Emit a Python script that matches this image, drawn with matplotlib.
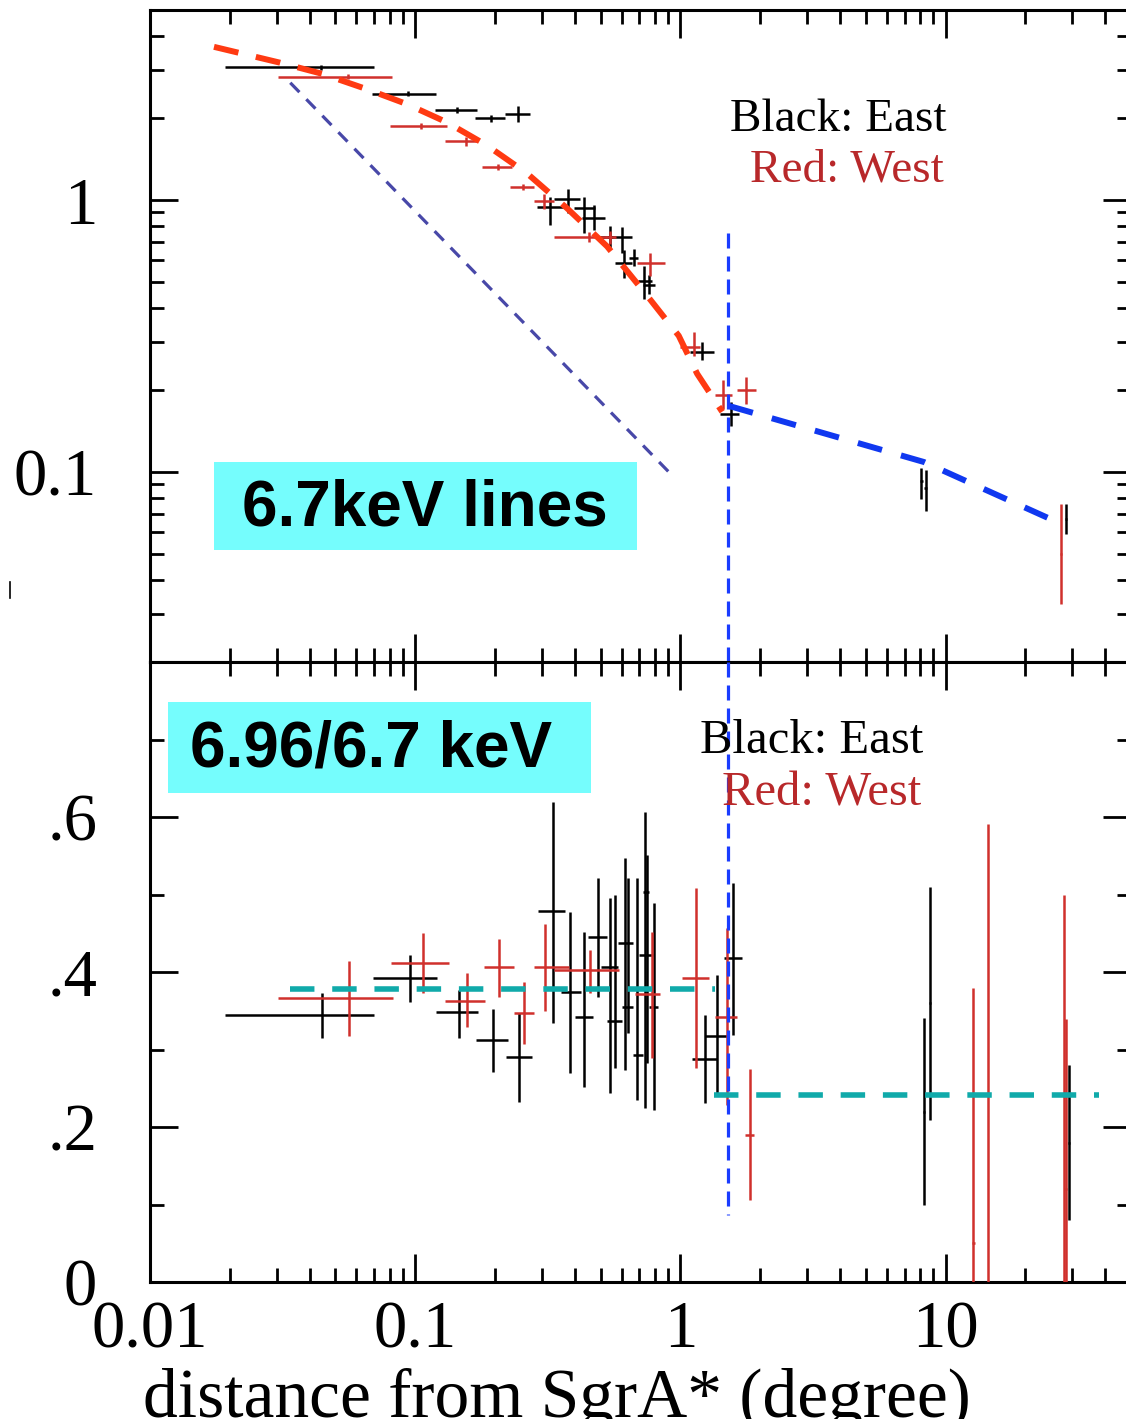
import matplotlib
matplotlib.use('agg')
import matplotlib.pyplot as plt
from matplotlib.ticker import FixedLocator, FixedFormatter, LogLocator, NullFormatter
from matplotlib.patches import Rectangle
from matplotlib.lines import Line2D
import numpy as np

# ---------------- data: 6.7 keV line intensity (top panel) ----------------
# East (black)
top_e_x = [0.0442, 0.0939, 0.1436, 0.193, 0.2432, 0.323, 0.377, 0.432, 0.471, 0.603,
           0.544, 0.611, 0.666, 0.727, 0.759, 1.208, 1.545, 8.10, 8.41, 28.4]
top_e_xlo = [0.0192, 0.0687, 0.119, 0.1684, 0.2186, 0.288, 0.333, 0.396, 0.426, 0.499,
             0.535, 0.568, 0.64, 0.69, 0.72, 1.091, 1.416, 8.0, 8.3, 28.2]
top_e_xhi = [0.0697, 0.120, 0.171, 0.2186, 0.270, 0.363, 0.419, 0.478, 0.521, 0.657,
             0.555, 0.657, 0.69, 0.78, 0.80, 1.336, 1.66, 8.2, 8.5, 28.6]
top_e_y = [3.08, 2.46, 2.14, 2.00, 2.08, 0.94, 1.006, 0.933, 0.857, 0.731,
           0.731, 0.587, 0.612, 0.503, 0.489, 0.277, 0.163, 0.0925, 0.0874, 0.067]
top_e_ylo = [3.02, 2.41, 2.09, 1.94, 1.93, 0.81, 0.894, 0.756, 0.777, 0.639,
             0.66, 0.518, 0.57, 0.432, 0.45, 0.257, 0.147, 0.0792, 0.0719, 0.059]
top_e_yhi = [3.14, 2.51, 2.19, 2.06, 2.22, 1.03, 1.10, 1.03, 0.959, 0.799,
             0.80, 0.657, 0.66, 0.571, 0.53, 0.300, 0.181, 0.1034, 0.102, 0.076]

# West (red)
top_w_x = [0.0556, 0.1053, 0.1557, 0.2051, 0.254, 0.305, 0.451, 0.544, 0.771, 1.122, 1.449, 1.77, 27.2]
top_w_xlo = [0.0305, 0.0805, 0.130, 0.1785, 0.2283, 0.2796, 0.333, 0.52, 0.687, 1.0, 1.356, 1.64, 27.0]
top_w_xhi = [0.0817, 0.1317, 0.171, 0.2317, 0.2796, 0.333, 0.529, 0.57, 0.878, 1.19, 1.567, 1.92, 27.4]
top_w_y = [2.84, 1.87, 1.646, 1.323, 1.118, 0.99, 0.731, 0.731, 0.587, 0.289, 0.1915, 0.1997, 0.0499]
top_w_ylo = [2.78, 1.83, 1.58, 1.29, 1.09, 0.93, 0.70, 0.69, 0.525, 0.268, 0.171, 0.178, 0.0328]
top_w_yhi = [2.90, 1.92, 1.71, 1.36, 1.15, 1.05, 0.76, 0.77, 0.639, 0.326, 0.217, 0.2236, 0.076]

# model curves drawn on the top panel
inner_x = [0.01743, 0.03094, 0.04446, 0.06571, 0.0930, 0.1317, 0.1865, 0.2639,
           0.3736, 0.529, 0.759, 0.9854, 1.156, 1.437]
inner_y = [3.66, 3.20, 2.915, 2.557, 2.254, 1.931, 1.588, 1.254,
           0.933, 0.6755, 0.4377, 0.317, 0.2298, 0.1665]
outer_x = [1.521, 8.28, 24.2]
outer_y = [0.175, 0.1088, 0.0679]
slope_x = [0.0338, 0.904]
slope_y = [2.70, 0.100]

# ---------------- data: 6.96/6.7 keV ratio (bottom panel) ----------------
bot_e_x = [0.0444, 0.0952, 0.1457, 0.1966, 0.2469, 0.331, 0.3846, 0.434, 0.489, 0.541,
           0.568, 0.620, 0.632, 0.686, 0.738, 0.749, 0.793, 1.243, 1.375, 1.581, 8.28, 8.73, 29.2]
bot_e_xlo = [0.0192, 0.0692, 0.1197, 0.170, 0.2209, 0.2904, 0.355, 0.40, 0.45, 0.50,
             0.53, 0.58, 0.60, 0.66, 0.72, 0.70, 0.76, 1.107, 1.243, 1.457, 8.2, 8.65, 29.0]
bot_e_xhi = [0.0702, 0.1208, 0.1718, 0.223, 0.2756, 0.368, 0.42, 0.47, 0.53, 0.58,
             0.60, 0.66, 0.66, 0.72, 0.76, 0.79, 0.82, 1.375, 1.50, 1.709, 8.36, 8.8, 29.4]
bot_e_y = [0.344, 0.3927, 0.3484, 0.3123, 0.290, 0.4787, 0.3738, 0.3415, 0.4448, 0.406,
           0.337, 0.437, 0.3553, 0.2929, 0.5028, 0.4219, 0.3544, 0.2882, 0.3178, 0.4177,
           0.2198, 0.3596, 0.18]
bot_e_ylo = [0.3152, 0.3617, 0.3144, 0.2714, 0.2327, 0.3346, 0.2693, 0.2512, 0.368, 0.2435,
             0.2757, 0.2735, 0.321, 0.2348, 0.2241, 0.2822, 0.222, 0.2306, 0.2435, 0.3187,
             0.0994, 0.209, 0.08]
bot_e_yhi = [0.3725, 0.4219, 0.3768, 0.3518, 0.3467, 0.620, 0.4778, 0.452, 0.5209, 0.495,
             0.4995, 0.5467, 0.521, 0.5209, 0.6068, 0.551, 0.4886, 0.3445, 0.3961, 0.5144,
             0.3402, 0.510, 0.28]

bot_w_x = [0.0562, 0.1069, 0.1567, 0.2075, 0.2577, 0.3095, 0.457, 0.782, 1.149, 1.492,
           1.827, 12.72, 14.45, 27.96, 28.4]
bot_w_xlo = [0.0305, 0.0811, 0.130, 0.1811, 0.235, 0.2796, 0.333, 0.676, 1.0146, 1.356,
             1.75, 12.6, 14.3, 27.8, 28.2]
bot_w_xhi = [0.0824, 0.1336, 0.1837, 0.2363, 0.28, 0.379, 0.585, 0.841, 1.279, 1.63,
             1.90, 12.85, 14.6, 28.1, 28.6]
bot_w_y = [0.366, 0.412, 0.363, 0.406, 0.3475, 0.406, 0.4026, 0.371, 0.3927, 0.342,
           0.1897, 0.05, 0.2413, 0.24, 0.12]
bot_w_ylo = [0.3174, 0.3725, 0.3294, 0.368, 0.307, 0.350, 0.3725, 0.2887, 0.2757, 0.2284,
             0.1058, 0.0, 0.0, 0.0, 0.0]
bot_w_yhi = [0.4142, 0.4507, 0.3983, 0.4422, 0.3875, 0.462, 0.428, 0.452, 0.509, 0.4564,
             0.2744, 0.380, 0.591, 0.50, 0.34]

# mean ratio levels inside / outside the break
ratio_in_x = [0.0338, 1.356]
ratio_in_y = [0.378, 0.378]
ratio_out_x = [1.336, 37.9]
ratio_out_y = [0.2417, 0.2417]
x_break = 1.514

# ---------------- figure ----------------
W, H = 1126, 1419
fig = plt.figure(figsize=(W / 100, H / 100), dpi=100)


def fx(px):
    return px / W


def fy(py):
    return 1 - py / H


ax1 = fig.add_axes([fx(150), fy(662), fx(1131) - fx(150), fy(10) - fy(662)])
ax2 = fig.add_axes([fx(150), fy(1282), fx(1131) - fx(150), fy(662) - fy(1282)])

serif = 'Liberation Serif'
BLACK = 'black'
RED = '#d0302c'


def errs(c, lo, hi):
    c = np.array(c)
    return [c - np.array(lo), np.array(hi) - c]


def points(ax, x, xlo, xhi, y, ylo, yhi, color, lw=1.8):
    ax.errorbar(x, y, xerr=errs(x, xlo, xhi), yerr=errs(y, ylo, yhi),
                fmt='none', ecolor=color, elinewidth=lw, capsize=0, zorder=3)


# top panel
points(ax1, top_e_x, top_e_xlo, top_e_xhi, top_e_y, top_e_ylo, top_e_yhi, BLACK)
points(ax1, top_w_x, top_w_xlo, top_w_xhi, top_w_y, top_w_ylo, top_w_yhi, RED)
ax1.plot(inner_x, inner_y, color='#ff3a12', lw=4.3, dashes=(4.2, 3.0), zorder=4)
ax1.plot(outer_x, outer_y, color='#1038f0', lw=4.3, dashes=(4.2, 3.3), zorder=4)
ax1.plot(slope_x, slope_y, color='#4848a8', lw=2.3, dashes=(4.1, 3.1), zorder=2)
ax1.plot([x_break, x_break], [0.756, 0.02], color='#1a3cff', lw=2.3, dashes=(4.7, 2.5), zorder=5)

# bottom panel
points(ax2, bot_e_x, bot_e_xlo, bot_e_xhi, bot_e_y, bot_e_ylo, bot_e_yhi, BLACK)
points(ax2, bot_w_x, bot_w_xlo, bot_w_xhi, bot_w_y, bot_w_ylo, bot_w_yhi, RED)
ax2.plot(ratio_in_x, ratio_in_y, color='#10aaaa', lw=4.0, dashes=(4.4, 3.2), zorder=4)
ax2.plot(ratio_out_x, ratio_out_y, color='#10aaaa', lw=4.0, dashes=(4.4, 3.2), zorder=4)
ax2.plot([x_break, x_break], [0.8, 0.0865], color='#1a3cff', lw=2.3, dashes=(4.7, 2.5), zorder=5)

# axes styling
for ax in (ax1, ax2):
    ax.set_xscale('log')
    ax.set_xlim(0.01, 50)
    ax.xaxis.set_major_locator(FixedLocator([0.01, 0.1, 1, 10]))
    ax.xaxis.set_minor_locator(LogLocator(base=10, subs=np.arange(2, 10)))
    ax.xaxis.set_minor_formatter(NullFormatter())
    for s in ax.spines.values():
        s.set_linewidth(2.2)
    ax.tick_params(which='both', direction='in', top=True, right=True, width=2.0, colors='black')
    ax.tick_params(which='major', length=20)
    ax.tick_params(which='minor', length=10)
    ax.tick_params(axis='y', which='major', pad=38)
    ax.tick_params(axis='x', which='major', pad=13)

ax1.set_yscale('log')
ax1.set_ylim(0.02, 5)
ax1.yaxis.set_major_locator(FixedLocator([0.1, 1]))
ax1.yaxis.set_major_formatter(FixedFormatter(['0.1', '1']))
ax1.yaxis.set_minor_locator(LogLocator(base=10, subs=np.arange(2, 10)))
ax1.yaxis.set_minor_formatter(NullFormatter())
ax1.tick_params(axis='x', labelbottom=False)

ax2.set_ylim(0, 0.8)
ax2.yaxis.set_major_locator(FixedLocator([0, 0.2, 0.4, 0.6]))
ax2.yaxis.set_major_formatter(FixedFormatter(['0', '.2', '.4', '.6']))
ax2.yaxis.set_minor_locator(FixedLocator([0.1, 0.3, 0.5, 0.7]))
ax2.xaxis.set_major_formatter(FixedFormatter(['0.01', '0.1', '1', '10']))

for ax in (ax1, ax2):
    for lab in ax.get_xticklabels() + ax.get_yticklabels():
        lab.set_fontfamily(serif)
        lab.set_fontsize(48)

# legends as plain text
fig.text(fx(730), fy(131), 'Black: East', family=serif, fontsize=34, color='black', va='baseline')
fig.text(fx(750), fy(181), 'Red: West', family=serif, fontsize=34, color='#b8282a', va='baseline')
fig.text(fx(700), fy(753), 'Black: East', family=serif, fontsize=35, color='black', va='baseline')
fig.text(fx(722), fy(806), 'Red: West', family=serif, fontsize=35, color='#b8282a', va='baseline')

# cyan label boxes (x0, y0, x1, y1, text centre x, label)
for (x0, y0, x1, y1, tx, label) in [(214, 462, 637, 550, 425, '6.7keV lines'),
                                    (168, 702, 591, 793, 371, '6.96/6.7 keV')]:
    fig.add_artist(Rectangle((fx(x0), fy(y1)), fx(x1) - fx(x0), fy(y0) - fy(y1),
                             transform=fig.transFigure, facecolor='#75fdfd',
                             edgecolor='none', zorder=6))
    fig.text(fx(tx), fy((y0 + y1) / 2 + 2), label, family='Liberation Sans',
             fontweight='bold', fontsize=46, ha='center', va='center', zorder=7)

# x axis title (cut at the bottom edge in the original)
fig.text(fx(557), fy(1368), 'distance from SgrA* (degree)', family=serif, fontsize=50,
         ha='center', va='top')

# stray mark at the left edge
fig.add_artist(Line2D([fx(10), fx(10)], [fy(582), fy(598)], color='black', lw=1.2))

fig.savefig('out.png', dpi=100)
